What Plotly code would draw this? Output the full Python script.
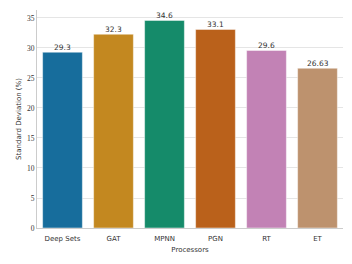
import colorsys
import plotly.graph_objects as go

processors = ["Deep Sets", "GAT", "MPNN", "PGN", "RT", "ET"]
std_dev = [29.3, 32.3, 34.6, 33.1, 29.6, 26.63]
labels = ["29.3", "32.3", "34.6", "33.1", "29.6", "26.63"]
base_colors = ["#0173b2", "#de8f05", "#029e73", "#d55e00", "#cc78bc", "#ca9161"]


def desat(hexc, prop=0.75):
    r, g, b = (int(hexc[i:i + 2], 16) / 255 for i in (1, 3, 5))
    h, l, s = colorsys.rgb_to_hls(r, g, b)
    r, g, b = colorsys.hls_to_rgb(h, l, s * prop)
    return "rgb(%d,%d,%d)" % (round(r * 255), round(g * 255), round(b * 255))


colors = [desat(c) for c in base_colors]

fig = go.Figure()
fig.add_trace(go.Bar(
    x=processors, y=std_dev,
    marker=dict(color=colors, line=dict(color="rgba(255,255,255,0.6)", width=0.8)),
    width=0.78,
))
for p, v, t in zip(processors, std_dev, labels):
    fig.add_annotation(x=p, y=v, text=t, showarrow=False, yanchor="bottom", yshift=-2,
                       font=dict(family="DejaVu Sans", size=7.5, color="#333"))
# page body has an 8px default margin, so the figure is 344x256 placed at (8, 8)
fig.update_layout(
    width=344, height=256, margin=dict(l=29, r=9, t=2, b=36, autoexpand=False),
    paper_bgcolor="white", plot_bgcolor="white", showlegend=False,
)
fig.update_xaxes(
    range=[-0.5, 5.5], showline=True, linecolor="#cccccc", linewidth=1, automargin=False,
    ticks="", ticklabelstandoff=4, tickfont=dict(family="DejaVu Sans", size=7, color="#333"),
    title=dict(text="Processors", font=dict(family="DejaVu Sans", size=7, color="#333"), standoff=4),
)
fig.update_yaxes(
    range=[0, 36.33], dtick=5, showline=True, linecolor="#cccccc", linewidth=1, automargin=False,
    gridcolor="#e5e5e5", gridwidth=1, ticks="", zeroline=False,
    tickfont=dict(family="Liberation Serif", size=7.5, color="#333"),
    title=dict(text="Standard Deviation (%)", font=dict(family="DejaVu Sans", size=7, color="#333"), standoff=4),
)
fig.write_html("out.html")
